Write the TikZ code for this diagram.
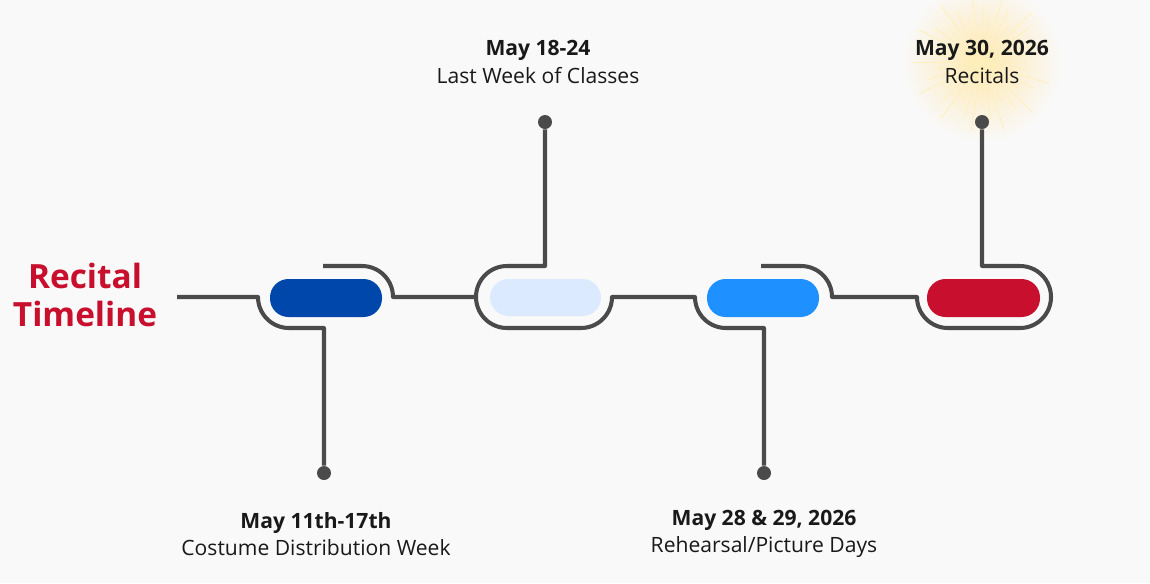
\documentclass[tikz,border=0pt]{standalone}
\usepackage{fontspec}
\setmainfont{Open Sans}
\begin{document}
\begin{tikzpicture}[x=0.02cm,y=-0.02cm,
  track/.style={line width=2.3pt,draw=tl,line join=round},
  rc/.style={rounded corners=0.62cm},
  pill/.style={rounded corners=18.5*0.02cm},
  dot/.style={circle,fill=tl,inner sep=0pt,minimum size=0.28cm},
  lbl/.style={align=center,font=\fontsize{12}{15.5}\selectfont,text=black!90}]
\definecolor{tl}{HTML}{4A4A4A}
\definecolor{bg}{HTML}{F9F9F9}
\fill[bg] (0,0) rectangle (1150,583);
\useasboundingbox (0,0) rectangle (1150,583);
% glow
\shade[inner color=yellow!40!orange!30,outer color=bg] (982,62) circle (80*0.02cm);
\foreach \a in {0,9,...,359}{
  \draw[yellow!60!orange!25,line width=0.5pt] (982,62) -- ++(\a:{(45+25*mod(\a,27)/18)*0.02cm});
}
% dots
\node[dot] (d1) at (324,473) {};
\node[dot] (d2) at (545,122) {};
\node[dot] (d3) at (764,473) {};
\node[dot] (d4) at (982,122) {};
% pills
\fill[pill,fill={rgb,255:red,0;green,71;blue,171}] (270,279) rectangle (382,317);
\fill[pill,fill={rgb,255:red,219;green,234;blue,254}] (490,279) rectangle (601,316);
\fill[pill,fill={rgb,255:red,30;green,144;blue,255}] (707,279) rectangle (819,317);
\fill[pill,fill={rgb,255:red,200;green,16;blue,46}] (927,279) rectangle (1040,317);
% track
\coordinate (s) at (177,297);
\draw[track] (s) -- (258,297) [rc] -- (258,328) [sharp corners] -- (324,328) -- (d1);
\draw[track] (323,266) [rc] -- (393,266) [sharp corners] -- (393,297) -- (476,297)
  [rc] -- (476,328) -- (612,328) [sharp corners] -- (612,297) -- (695,297)
  [rc] -- (695,328) [sharp corners] -- (764,328) -- (d3);
\draw[track] (d2) -- (545,266) [rc] -- (476,266) [sharp corners] -- (476,297);
\draw[track] (761,266) [rc] -- (832,266) [sharp corners] -- (832,297) -- (917,297)
  [rc] -- (917,328) -- (1051,328) -- (1051,266) [sharp corners] -- (982,266) -- (d4);
% texts
\node[font=\bfseries\fontsize{19}{21.5}\selectfont,text={rgb,255:red,200;green,16;blue,46},align=center] (t) at (85,295) {Recital\\Timeline};
\node[lbl] (l2) at (538,62) {\textbf{May 18-24}\\Last Week of Classes};
\node[lbl] (l4) at (982,62) {\textbf{May 30, 2026}\\Recitals};
\node[lbl] (l1) at (316,534) {\textbf{May 11th-17th}\\Costume Distribution Week};
\node[lbl] (l3) at (764,534) {\textbf{May 28 \& 29, 2026}\\Rehearsal/Picture Days};
\end{tikzpicture}
\end{document}
